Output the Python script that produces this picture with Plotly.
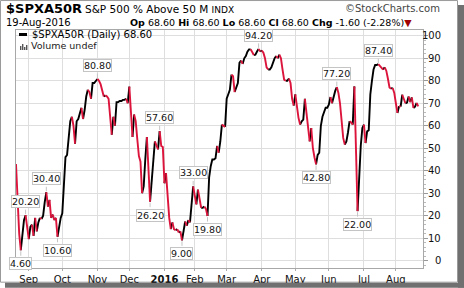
import plotly.graph_objects as go
import pandas as pd

# ---------------- data ----------------
HOLIDAYS = ["2015-09-07", "2015-11-26", "2015-12-25", "2016-01-01", "2016-01-18",
            "2016-02-15", "2016-03-25", "2016-05-30", "2016-07-04"]

aug15 = [43, 28, 12, 4.6, 12, 18, 20.2, 15]
sep15 = [9.5, 15, 16, 11, 19, 13, 17, 19, 18.5, 20, 26, 30.4, 24, 27, 19, 20.5, 18, 19, 10.6, 16, 19]
oct15 = [21, 35, 46, 47, 54, 62, 64, 60, 52, 62, 63, 65, 68, 63, 67, 73, 76, 75, 72, 79, 79, 80]
nov15 = [80.8, 80, 78.5, 76, 73, 73.5, 73, 72, 64, 56, 64, 60, 70.5, 70.5, 71, 71, 71.5, 71.5, 72, 70]
dec15 = [77.4, 68, 55, 65, 62, 54, 46.5, 44, 30, 33, 45, 55, 40, 26.2, 36, 43, 53, 51, 49.5, 57.6, 51, 50.5]
jan16 = [34.4, 38.9, 28, 19, 14, 17, 14, 13.5, 14, 12.5, 13, 9.0, 13, 17.4, 15.5, 18, 17, 27, 33.0]
feb16 = [29, 25, 31.6, 28, 23.5, 23.5, 24, 23, 19.8, 37, 42, 45, 45, 45.5, 51, 48, 53, 60.5, 60, 59.5]
mar16 = [72, 74, 76, 82.7, 82, 75, 77, 79, 88, 89, 87.5, 90, 91, 93, 94, 94, 92.4, 91.5, 91.6, 93, 94.2, 93]
apr16 = [93.5, 92.5, 90, 86, 85, 85, 86, 88, 90, 91, 90, 91.6, 90, 85, 80.5, 80, 80, 81, 79, 72, 69]
may16 = [74, 68, 63.5, 60.5, 62, 62.7, 72, 65, 61, 53, 59, 50, 46, 42.8, 47, 48, 60, 64, 65.7, 68, 68]
jun16 = [69.4, 72.8, 70, 73.5, 75.5, 77.2, 74.6, 70, 62, 54.6, 51.6, 53, 57, 62, 61.5, 60.5, 77.5, 48, 22.0, 38, 51, 59]
jul16 = [60.5, 52.3, 57.5, 58, 74, 80, 85, 87, 87, 87.4, 86.5, 85.5, 85, 86, 84.5, 81, 77, 76.5, 76.8, 74.6]
aug16 = [70, 65.7, 68.7, 68.5, 73.8, 72, 70, 70.3, 73, 70.5, 72.6, 67.9, 68.5, 70.2, 68.6]

MONTHS = [("2015-08-20", "2015-08-31", aug15), ("2015-09-01", "2015-09-30", sep15),
          ("2015-10-01", "2015-10-31", oct15), ("2015-11-01", "2015-11-30", nov15),
          ("2015-12-01", "2015-12-31", dec15), ("2016-01-01", "2016-01-31", jan16),
          ("2016-02-01", "2016-02-29", feb16), ("2016-03-01", "2016-03-31", mar16),
          ("2016-04-01", "2016-04-30", apr16), ("2016-05-01", "2016-05-31", may16),
          ("2016-06-01", "2016-06-30", jun16), ("2016-07-01", "2016-07-31", jul16),
          ("2016-08-01", "2016-08-19", aug16)]

TICK_DATES = ["2015-09-01", "2015-10-01", "2015-11-02", "2015-12-01", "2016-01-04", "2016-02-01",
              "2016-03-01", "2016-04-01", "2016-05-02", "2016-06-01", "2016-07-01", "2016-08-01"]
TICK_TEXT = ["Sep", "Oct", "Nov", "Dec", "<b>2016</b>", "Feb", "Mar", "Apr", "May", "Jun", "Jul", "Aug"]
Y_TICKS = [0, 10, 20, 30, 40, 50, 60, 70, 80, 90, 100]

PEAKS = [("2015-08-25", "low"), ("2015-08-28", "high"), ("2015-09-17", "high"), ("2015-09-28", "low"),
         ("2015-11-02", "high"), ("2015-12-18", "low"), ("2015-12-29", "high"), ("2016-01-20", "low"),
         ("2016-01-29", "high"), ("2016-02-11", "low"), ("2016-03-30", "high"), ("2016-05-19", "low"),
         ("2016-06-08", "high"), ("2016-06-27", "low"), ("2016-07-15", "high")]

# ---------------- build series ----------------
dates, values = [], []
for start, end, vals in MONTHS:
    ds = [d for d in pd.bdate_range(start, end) if d.strftime("%Y-%m-%d") not in HOLIDAYS]
    if len(ds) != len(vals):
        raise ValueError(f"{start}: {len(ds)} dates vs {len(vals)} values")
    dates += [d.strftime("%Y-%m-%d") for d in ds]
    values += vals
val_by_date = dict(zip(dates, values))

UP, DOWN = "#000000", "#dc143c"
tr = {UP: ([], []), DOWN: ([], [])}
cur = None
run_x, run_y = [], []
for i in range(1, len(values)):
    c = UP if values[i] >= values[i - 1] else DOWN
    if c != cur:
        if cur is not None:
            tr[cur][0].extend(run_x + [None]); tr[cur][1].extend(run_y + [None])
        cur = c
        run_x, run_y = [dates[i - 1]], [values[i - 1]]
    run_x.append(dates[i]); run_y.append(values[i])
tr[cur][0].extend(run_x); tr[cur][1].extend(run_y)

W, H = 464, 288
L, R, T, B = 16, 423, 30, 268.3


def px(x):
    return (x - L) / (R - L)


def py(y):
    return (B - y) / (B - T)


fig = go.Figure()
for col in (UP, DOWN):
    fig.add_trace(go.Scatter(x=tr[col][0], y=tr[col][1], mode="lines",
                             line=dict(color=col, width=1.9), connectgaps=False,
                             hoverinfo="skip", showlegend=False))

FONT = "DejaVu Sans"
ann = []
for d, kind in PEAKS:
    v = val_by_date[d]
    up = kind == "high"
    # small pointer from the label box to the point
    ann.append(dict(x=d, y=v, xref="x", yref="y", text="", showarrow=True,
                    ax=0, ay=(-7 if up else 7), arrowcolor="#c4c4c4", arrowwidth=1,
                    arrowhead=0, standoff=1))
    ann.append(dict(x=d, y=v, xref="x", yref="y", text=f"{v:.2f}", showarrow=False,
                    xanchor="center", yanchor=("bottom" if up else "top"),
                    yshift=(7 if up else -7),
                    bgcolor="white", bordercolor="#c4c4c4", borderwidth=1, borderpad=0,
                    font=dict(family=FONT, size=9.5, color="#111")))

for t in Y_TICKS:
    ann.append(dict(x=px(443), y=t, xref="paper", yref="y", text=str(t), showarrow=False,
                    xanchor="right", yanchor="middle", font=dict(family=FONT, size=10, color="#111")))

# header / legend texts
hdr = [
    dict(x=px(4), y=py(8), text="<b>$SPXA50R</b>", font=dict(family=FONT, size=13, color="#000")),
    dict(x=px(83), y=py(8.5), text="S&P 500 % Above 50 M <span style='font-size:9px'>INDX</span>",
         font=dict(family=FONT, size=10.5, color="#000")),
    dict(x=px(343), y=py(8.5), text="©StockCharts.com", font=dict(family=FONT, size=10, color="#444")),
    dict(x=px(4), y=py(22.5), text="19-Aug-2016", font=dict(family=FONT, size=10, color="#000")),
    dict(x=px(128), y=py(22.5),
         text="<b>Op</b> 68.60 <b>Hi</b> 68.60 <b>Lo</b> 68.60 <b>Cl</b> 68.60 <b>Chg</b> -1.60 (-2.28%)"
              "<span style='color:#a00000'>▼</span>",
         font=dict(family=FONT, size=9.5, color="#000")),
    dict(x=px(30), y=py(34.5), text="$SPXA50R (Daily) 68.60", font=dict(family=FONT, size=10, color="#000")),
    dict(x=px(29), y=py(46), text="Volume undef", font=dict(family=FONT, size=9.5, color="#222")),
]
for a in hdr:
    a.update(xref="paper", yref="paper", xanchor="left", yanchor="middle", showarrow=False)
ann += hdr

shapes = [
    # legend marker
    dict(type="line", xref="paper", yref="paper", x0=px(19), x1=px(27), y0=py(34.5), y1=py(34.5),
         line=dict(color="black", width=3)),
    # outer frame + shadow
    dict(type="rect", xref="paper", yref="paper", x0=px(0.5), x1=px(457.5), y0=py(0.5), y1=py(282.5),
         line=dict(color="#9a9a9a", width=1), layer="below"),
    dict(type="rect", xref="paper", yref="paper", x0=px(458), x1=px(464), y0=py(5), y1=py(288),
         fillcolor="#707070", line=dict(width=0)),
    dict(type="rect", xref="paper", yref="paper", x0=px(5), x1=px(464), y0=py(283), y1=py(288),
         fillcolor="#707070", line=dict(width=0)),
]
for bx, bh in [(20, 4), (22, 6), (24, 3), (26, 5)]:
    shapes.append(dict(type="rect", xref="paper", yref="paper", x0=px(bx), x1=px(bx + 1.4),
                       y0=py(50), y1=py(50 - bh), fillcolor="#555", line=dict(width=0)))

fig.update_layout(
    width=W, height=H, margin=dict(l=L, r=W - R, t=T, b=H - B, autoexpand=False),
    paper_bgcolor="white", plot_bgcolor="white",
    annotations=ann, shapes=shapes, showlegend=False,
    xaxis=dict(type="date", range=["2015-08-20", "2016-08-24"], automargin=False,
               rangebreaks=[dict(bounds=["sat", "mon"]), dict(values=HOLIDAYS)],
               tickmode="array", tickvals=TICK_DATES, ticktext=TICK_TEXT,
               showgrid=True, gridcolor="#dedede", gridwidth=1,
               ticks="outside", ticklen=2, tickcolor="#aaa",
               showline=True, linecolor="#a8a8a8", mirror=True, zeroline=False,
               tickfont=dict(family=FONT, size=10, color="#111")),
    yaxis=dict(side="right", range=[-3.3, 102.6], tickmode="array", tickvals=Y_TICKS,
               automargin=False, showticklabels=False, showgrid=True, gridcolor="#dedede", gridwidth=1,
               ticks="outside", ticklen=4, tickcolor="#999",
               minor=dict(ticks="outside", ticklen=2, dtick=2, tickcolor="#bbb", showgrid=False),
               showline=True, linecolor="#a8a8a8", mirror=True, zeroline=False),
)

fig.write_html("out.html")
